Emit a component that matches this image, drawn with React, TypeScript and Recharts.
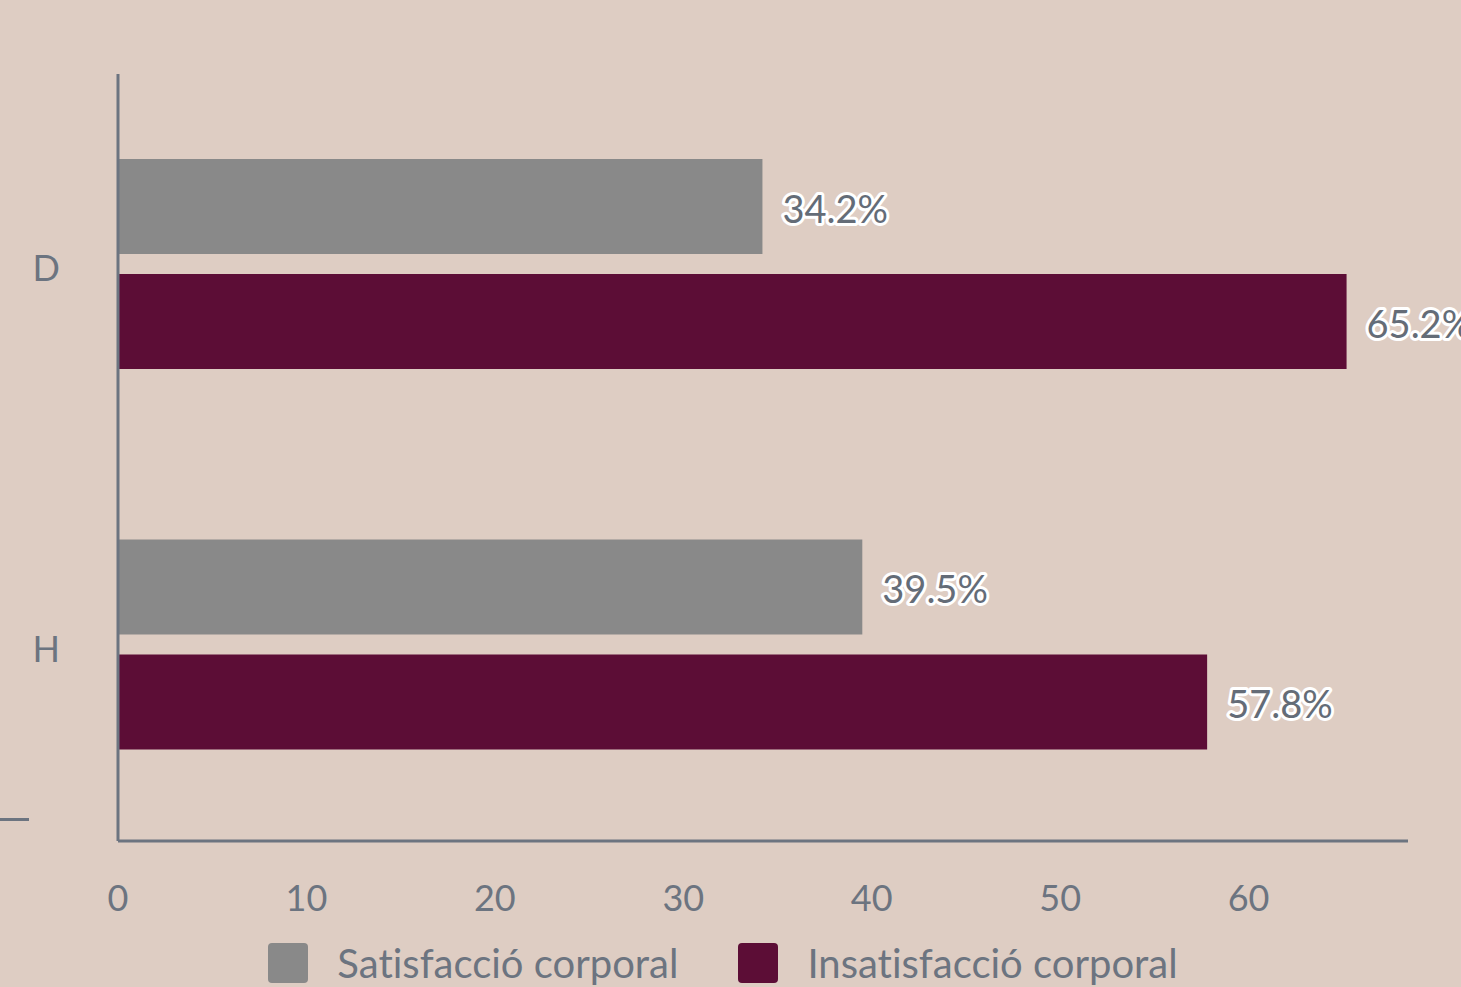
import { BarChart, Bar, XAxis, YAxis, LabelList, Legend } from 'recharts';

const categories = ['D', 'H'];
const satisfaccio = [34.2, 39.5];
const insatisfaccio = [65.2, 57.8];
const xTicks = [0, 10, 20, 30, 40, 50, 60];

const data = categories.map((c, i) => ({ cat: c, sat: satisfaccio[i], insat: insatisfaccio[i] }));

const AXIS = '#6c7480';
const FONT = 'Lato, sans-serif';

const series = [
  { key: 'sat', name: 'Satisfacció corporal', color: '#898989' },
  { key: 'insat', name: 'Insatisfacció corporal', color: '#5c0d36' },
];

function LegendContent() {
  return (
    <div style={{ display: 'flex', justifyContent: 'center', gap: 60, fontFamily: FONT, fontVariantLigatures: 'none', paddingLeft: 38, marginTop: 2 }}>
      {series.map((s) => (
        <div key={s.key} style={{ display: 'flex', alignItems: 'center' }}>
          <span style={{ width: 40, height: 40, background: s.color, borderRadius: 4, display: 'inline-block', marginRight: 29 }} />
          <span style={{ fontSize: 40, color: AXIS, lineHeight: '40px' }}>{s.name}</span>
        </div>
      ))}
    </div>
  );
}

export default function App() {
  const label = { fill: '#646c77', fontSize: 38, fontFamily: FONT, fontVariantLigatures: 'none', stroke: '#ffffff', strokeWidth: 6, paintOrder: 'stroke', strokeLinejoin: 'round' } as any;
  const tickStyle = { fill: AXIS, fontSize: 36, fontFamily: FONT } as any;
  return (
    <div style={{ position: 'absolute', left: 0, top: 0, width: 1461, height: 987, background: '#decdc3', overflow: 'hidden' }}>
      <div style={{ position: 'absolute', left: 0, top: 818, width: 29, height: 3, background: AXIS }} />
      <BarChart
        width={1461}
        height={987}
        data={data}
        layout="vertical"
        margin={{ top: 74, right: 53, bottom: 0, left: 0 }}
        barGap={20}
        barSize={95}
        style={{ overflow: 'visible' }}
      >
        <XAxis
          type="number"
          domain={[0, (max: number) => max * 1.05]}
          ticks={xTicks}
          axisLine={{ stroke: AXIS, strokeWidth: 3 }}
          tickLine={false}
          tickSize={0}
          tickMargin={44}
          height={100}
          tick={tickStyle}
        />
        <YAxis
          type="category"
          dataKey="cat"
          width={118}
          padding={{ top: 0, bottom: 6 }}
          axisLine={{ stroke: AXIS, strokeWidth: 3 }}
          tickLine={false}
          tickSize={0}
          tickMargin={58}
          tick={{ ...tickStyle, dy: 4 }}
        />
        <Legend verticalAlign="bottom" height={46} content={LegendContent} />
        {series.map((s) => (
          <Bar key={s.key} dataKey={s.key} name={s.name} fill={s.color} isAnimationActive={false}>
            <LabelList dataKey={s.key} position="right" offset={20} dy={3} formatter={(v: any) => `${v}%`} style={label} />
          </Bar>
        ))}
      </BarChart>
    </div>
  );
}
